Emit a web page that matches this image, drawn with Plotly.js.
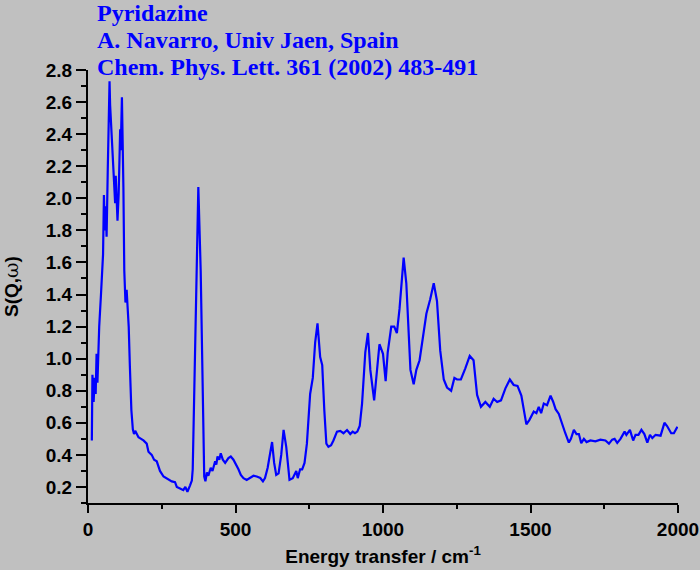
<!DOCTYPE html>
<html>
<head>
<meta charset="utf-8">
<script src="https://cdn.plot.ly/plotly-3.0.1.min.js"></script>
<style>
    body { margin: 0; background: #c0c0c0; }
    #grafico { width: 700px; height: 570px; }
</style>
</head>
<body>
<div id="grafico"></div>
<script>
const energia = [
    13, 15, 19, 23, 26, 29, 32, 35, 38, 44, 48, 51, 54, 57, 60, 63, 67, 73, 75, 78,
    84, 89, 92, 94, 97, 100, 104, 109, 111, 115, 120, 123, 127, 131, 134, 138, 142, 147, 152, 156,
    160, 171, 180, 188, 199, 205, 216, 224, 233, 244, 256, 273, 284, 295, 301, 312, 323, 330, 337, 346,
    352, 355, 363, 369, 374, 382, 389, 394, 398, 403, 408, 416, 422, 431, 435, 439, 445, 450, 457, 465,
    476, 484, 493, 502, 510, 518, 527, 538, 550, 561, 572, 584, 593, 600, 609, 618, 624, 631, 638, 646,
    655, 663, 672, 683, 694, 706, 711, 719, 726, 734, 742, 753, 762, 770, 778, 787, 794, 801, 808, 815,
    824, 832, 844, 855, 866, 878, 889, 897, 905, 913, 921, 929, 940, 949, 957, 970, 980, 988, 1000, 1009,
    1016, 1028, 1038, 1047, 1056, 1070, 1079, 1087, 1093, 1104, 1113, 1124, 1136, 1147, 1160, 1172, 1183, 1194, 1206, 1217,
    1231, 1242, 1251, 1264, 1279, 1294, 1307, 1319, 1332, 1347, 1362, 1375, 1387, 1400, 1415, 1430, 1443, 1456, 1469, 1477,
    1486, 1497, 1511, 1520, 1528, 1536, 1545, 1556, 1568, 1577, 1585, 1596, 1607, 1618, 1630, 1637, 1647, 1656, 1664, 1672,
    1681, 1690, 1703, 1720, 1737, 1754, 1766, 1777, 1785, 1794, 1805, 1819, 1825, 1837, 1848, 1856, 1866, 1876, 1886, 1896,
    1905, 1913, 1924, 1941, 1954, 1963, 1977, 1986, 1998
];
const sqw = [
    0.49, 0.90, 0.73, 0.88, 0.78, 1.03, 0.85, 1.05, 1.20, 1.40, 1.55, 1.65, 2.02, 1.80, 1.95, 1.76, 2.18, 2.73, 2.58, 2.48,
    2.32, 2.13, 1.97, 2.14, 1.93, 1.86, 2.03, 2.43, 2.30, 2.63, 2.07, 1.55, 1.35, 1.43, 1.33, 1.20, 0.95, 0.68, 0.56, 0.53,
    0.55, 0.51, 0.50, 0.49, 0.47, 0.42, 0.40, 0.37, 0.36, 0.30, 0.265, 0.245, 0.235, 0.23, 0.20, 0.19, 0.18, 0.20, 0.17, 0.21,
    0.24, 0.31, 1.14, 1.76, 2.07, 1.55, 0.72, 0.265, 0.235, 0.29, 0.27, 0.32, 0.30, 0.36, 0.34, 0.39, 0.37, 0.41, 0.37, 0.35,
    0.38, 0.39, 0.37, 0.34, 0.31, 0.275, 0.255, 0.244, 0.255, 0.27, 0.265, 0.256, 0.235, 0.255, 0.32, 0.41, 0.48, 0.35, 0.275, 0.285,
    0.40, 0.556, 0.45, 0.245, 0.255, 0.30, 0.255, 0.31, 0.31, 0.35, 0.47, 0.78, 0.88, 1.10, 1.22, 1.01, 0.96, 0.68, 0.47, 0.45,
    0.46, 0.49, 0.545, 0.55, 0.535, 0.555, 0.53, 0.545, 0.535, 0.545, 0.58, 0.72, 1.04, 1.16, 0.93, 0.74, 0.93, 1.09, 1.03, 0.86,
    1.04, 1.20, 1.20, 1.16, 1.31, 1.63, 1.47, 1.20, 0.93, 0.84, 0.93, 0.99, 1.16, 1.28, 1.37, 1.47, 1.36, 1.05, 0.87, 0.82,
    0.80, 0.88, 0.87, 0.87, 0.94, 1.017, 0.99, 0.774, 0.70, 0.73, 0.70, 0.75, 0.73, 0.74, 0.815, 0.87, 0.836, 0.83, 0.77, 0.68,
    0.59, 0.62, 0.67, 0.66, 0.70, 0.66, 0.72, 0.71, 0.77, 0.73, 0.685, 0.655, 0.587, 0.535, 0.477, 0.50, 0.556, 0.53, 0.53, 0.473,
    0.50, 0.48, 0.49, 0.485, 0.495, 0.49, 0.47, 0.495, 0.50, 0.475, 0.50, 0.545, 0.525, 0.556, 0.49, 0.525, 0.525, 0.556, 0.53, 0.477,
    0.525, 0.505, 0.525, 0.52, 0.60, 0.58, 0.535, 0.535, 0.576
];

// Linhas do titulo (referencia do artigo)
const linhasTitulo = [
    'Pyridazine',
    'A. Navarro, Univ Jaen, Spain',
    'Chem. Phys. Lett. 361 (2002) 483-491'
];

const fonteEixo = {
    family: 'Liberation Sans, Arial, sans-serif',
    size: 19,
    color: '#000000',
    weight: 'bold'
};

const data = [
    {
        x: energia,
        y: sqw,
        type: 'scatter',
        mode: 'lines',
        line: { color: '#0000ff', width: 2.2 },
        hoverinfo: 'x+y'
    }
];

// posicao das linhas do titulo, em pixels da janela
const topoTitulo = [13, 40, 67];

const layout = {
    width: 700,
    height: 570,
    margin: { l: 88, r: 22, t: 70, b: 67 },
    paper_bgcolor: '#c0c0c0',
    plot_bgcolor: '#c0c0c0',
    showlegend: false,
    xaxis: {
        range: [0, 2000],
        dtick: 500,
        tick0: 0,
        showgrid: false,
        zeroline: false,
        showline: true,
        linecolor: '#000000',
        linewidth: 2,
        ticks: 'outside',
        ticklen: 8,
        tickwidth: 2,
        tickcolor: '#000000',
        minor: { dtick: 250, ticks: 'outside', ticklen: 4, tickwidth: 2, tickcolor: '#000000' },
        tickfont: fonteEixo,
        title: {
            text: 'Energy transfer / cm<sup>-1</sup>',
            font: fonteEixo,
            standoff: 11
        }
    },
    yaxis: {
        range: [0.1, 2.8],
        dtick: 0.2,
        tick0: 0.2,
        tickformat: '.1f',
        showgrid: false,
        zeroline: false,
        showline: true,
        linecolor: '#000000',
        linewidth: 2,
        ticks: 'outside',
        ticklen: 10,
        tickwidth: 2,
        tickcolor: '#000000',
        minor: { dtick: 0.1, ticks: 'outside', ticklen: 5, tickwidth: 2, tickcolor: '#000000' },
        tickfont: fonteEixo,
        title: {
            text: 'S(Q,<span style="font-family: DejaVu Serif; font-weight: normal">ω</span>)',
            font: fonteEixo,
            standoff: 22
        }
    },
    annotations: linhasTitulo.map((linha, i) => ({
        text: linha,
        xref: 'paper',
        yref: 'paper',
        x: (95 - 88) / 590,
        y: (503 - topoTitulo[i]) / 433,
        xanchor: 'left',
        yanchor: 'middle',
        showarrow: false,
        align: 'left',
        font: {
            family: 'Liberation Serif, Times New Roman, serif',
            size: 24,
            color: '#0000ff',
            weight: 'bold'
        }
    }))
};

Plotly.newPlot('grafico', data, layout, { displayModeBar: false });
</script>
</body>
</html>
